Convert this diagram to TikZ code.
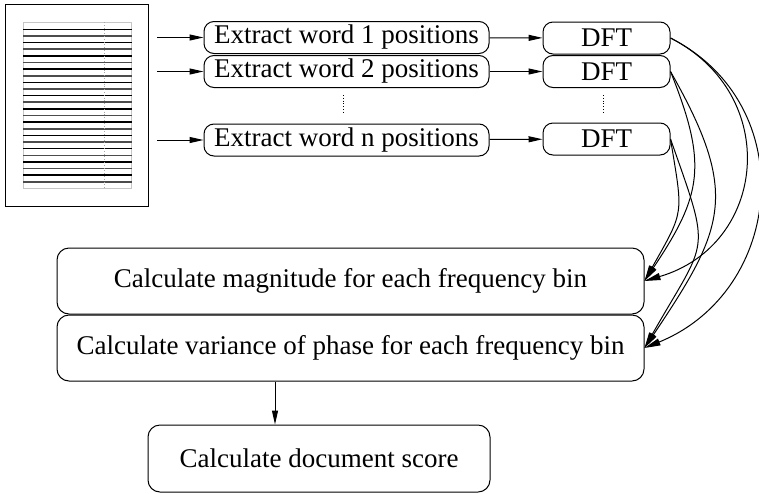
\documentclass[tikz,border=0pt]{standalone}
\usepackage{fontspec}
\setmainfont{Liberation Serif}
\newfontfamily\timesfont{Liberation Serif}
\usetikzlibrary{arrows.meta}
\begin{document}
\begin{tikzpicture}[x=1pt,y=-1pt,line width=1pt,
  txt/.style={font=\timesfont\fontsize{27}{30}\selectfont},
  rbox/.style={draw,rounded corners=10pt,inner sep=0pt,txt},
  bigbox/.style={draw,rounded corners=12pt,inner sep=0pt,txt},
  arr/.style={-{Triangle[length=14pt,width=6pt]}},
  carr/.style={-{Triangle[length=16pt,width=7pt]}},
  dots/.style={dotted,line width=0.8pt}]
\useasboundingbox (0,0) rectangle (759,493);
% document icon
\node[draw,minimum width=143pt,minimum height=202pt,inner sep=0pt] (doc) at (76.5,105) {};
\draw[gray!45,line width=1.2pt] (23,22.7) -- (131.7,22.7) (23,188.5) -- (131.7,188.5);
\draw[gray!45,line width=1pt] (23,22) -- (23,189) (131.7,22) -- (131.7,189);
\foreach \k in {1,3,...,23} \draw[black,line width=1.6pt] (23,22.7+\k*6.63) -- (131.7,22.7+\k*6.63);
\foreach \k in {2,4,...,24} \draw[gray!60!black,line width=1.6pt] (23,22.7+\k*6.63) -- (131.7,22.7+\k*6.63);
\draw[gray!70,line width=0.8pt,dotted] (104,22) -- (104,189);
% extract boxes
\node[rbox,minimum width=285pt,minimum height=32pt] (e1) at (346.5,37.5) {Extract word 1 positions};
\node[rbox,minimum width=285pt,minimum height=32pt] (e2) at (346.5,71.5) {Extract word 2 positions};
\node[rbox,minimum width=285pt,minimum height=32pt] (en) at (346.5,140) {Extract word n positions};
% DFT boxes
\node[rbox,minimum width=127pt,minimum height=32pt] (d1) at (606.5,38) {DFT};
\node[rbox,minimum width=127pt,minimum height=32pt] (d2) at (606.5,71.5) {DFT};
\node[rbox,minimum width=127pt,minimum height=32pt] (dn) at (606.5,139) {DFT};
% big boxes
\node[bigbox,minimum width=587pt,minimum height=66pt] (m) at (350.5,281) {Calculate magnitude for each frequency bin};
\node[bigbox,minimum width=587pt,minimum height=66pt] (v) at (350.5,348) {Calculate variance of phase for each frequency bin};
\node[bigbox,minimum width=342pt,minimum height=67pt] (s) at (319,458.5) {\raisebox{-5pt}{Calculate document score}};
% input arrows
\coordinate (s1) at (157,37.5);
\coordinate (s2) at (157,71.5);
\coordinate (sn) at (157,140);
\draw[arr] (s1) -- (e1);
\draw[arr] (s2) -- (e2);
\draw[arr] (sn) -- (en);
\draw[arr] (e1) -- (d1);
\draw[arr] (e2) -- (d2);
\draw[arr] (en) -- (dn);
% dots
\draw[dots] (343,95) -- (343,114);
\draw[dots] (603,95) -- (603,114);
% curves
\draw[carr] (d1.east) .. controls (782,95) and (767,245) .. (m.east);
\draw[carr] (d1.east) .. controls (802,105) and (784,291) .. (v.east);
\draw[carr] (d2.east) .. controls (708,165) and (702,195) .. (m.east);
\draw[carr] (d2.east) .. controls (740,194) and (725,228) .. (v.east);
\draw[carr] (dn.east) .. controls (683,216) and (685,209) .. (m.east);
\draw[carr] (dn.east) .. controls (712,257) and (708,236) .. (v.east);
% down arrow
\coordinate (ax) at (275,0);
\draw[arr] (ax |- v.south) -- (ax |- s.north);
\end{tikzpicture}
\end{document}
